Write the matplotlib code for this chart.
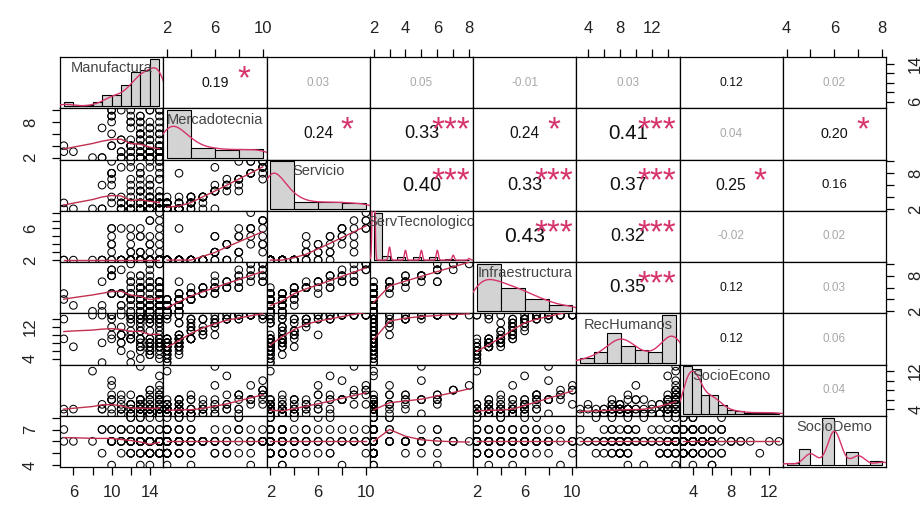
import numpy as np
import matplotlib
matplotlib.use("Agg")
import matplotlib.pyplot as plt

plt.rcParams['font.family'] = ['Liberation Sans', 'DejaVu Sans']

var_names = ["Manufactura", "Mercadotecnia", "Servicio", "ServTecnologico",
             "Infraestructura", "RecHumanos", "SocioEcono", "SocioDemo"]

# observaciones (valores enteros leidos aprox. de la figura)
manufactura = [15, 13, 14, 12, 15, 10, 14, 13, 15, 11,
               14, 15, 13, 12, 9, 15, 14, 13, 15, 10,
               12, 14, 15, 13, 11, 15, 14, 5, 13, 15,
               12, 14, 13, 15, 10, 14, 15, 12, 13, 8,
               15, 14, 11, 13, 15, 12, 14, 15, 13, 10,
               6, 15, 14, 13, 12, 15, 11, 14, 13, 15,
               10, 13, 14, 15, 12, 14, 9, 15, 13, 11,
               14, 15, 12, 13, 15, 14, 10, 13, 15, 12,
               14, 5, 15, 13, 11, 14, 15, 12, 13, 10,
               14, 15, 13, 12, 15, 14, 11, 15, 13, 14,
               12, 15, 10, 14, 13, 15, 12, 14, 15, 13,
               9, 14, 15, 12, 13, 15, 14, 11, 13, 15]
mercadotecnia = [2, 3, 2, 4, 2, 9, 3, 2, 5, 10,
                 2, 4, 3, 2, 7, 2, 3, 8, 2, 4,
                 3, 2, 10, 6, 2, 3, 2, 4, 9, 3,
                 2, 5, 2, 3, 8, 2, 4, 10, 3, 2,
                 6, 2, 3, 7, 2, 4, 3, 9, 2, 10,
                 3, 2, 4, 5, 2, 8, 3, 2, 6, 2,
                 4, 9, 3, 2, 7, 10, 2, 3, 4, 2,
                 5, 3, 8, 2, 6, 3, 10, 2, 4, 9,
                 2, 3, 7, 2, 5, 4, 10, 3, 8, 6,
                 3, 2, 6, 4, 2, 8, 5, 3, 2, 7,
                 4, 2, 9, 3, 6, 2, 5, 10, 3, 4,
                 2, 7, 3, 8, 2, 4, 6, 2, 5, 3]
servicio = [2, 2, 3, 2, 2, 8, 3, 2, 4, 9,
            2, 3, 2, 2, 6, 3, 2, 7, 2, 4,
            2, 3, 10, 5, 2, 2, 3, 2, 8, 2,
            3, 4, 2, 2, 10, 2, 3, 9, 2, 2,
            5, 2, 3, 6, 2, 3, 2, 10, 3, 7,
            2, 3, 4, 2, 2, 7, 2, 3, 9, 2,
            3, 8, 2, 4, 5, 10, 2, 2, 3, 2,
            4, 2, 6, 3, 2, 2, 8, 3, 4, 10,
            2, 3, 7, 2, 3, 4, 9, 2, 5, 6,
            2, 3, 5, 3, 2, 7, 4, 2, 3, 6,
            3, 2, 8, 2, 5, 3, 4, 9, 2, 3,
            2, 6, 4, 7, 2, 3, 5, 2, 4, 8]
serv_tecnologico = [2, 2, 2, 2, 2, 4, 2, 2, 2, 6,
                    2, 2, 2, 2, 2, 2, 2, 3, 2, 2,
                    2, 2, 7, 2, 2, 2, 2, 2, 5, 2,
                    2, 2, 2, 2, 6, 2, 2, 3, 2, 2,
                    5, 2, 2, 2, 2, 2, 2, 8, 2, 4,
                    2, 2, 2, 2, 2, 3, 2, 2, 5, 2,
                    2, 6, 2, 2, 4, 7, 2, 2, 2, 2,
                    2, 2, 3, 2, 2, 2, 5, 2, 2, 6,
                    2, 2, 2, 2, 2, 2, 4, 2, 2, 3,
                    2, 2, 3, 2, 2, 5, 2, 2, 2, 4,
                    2, 2, 6, 2, 3, 2, 2, 7, 2, 2,
                    2, 4, 2, 5, 2, 2, 3, 2, 2, 6]
infraestructura = [3, 4, 2, 5, 2, 8, 4, 3, 6, 9,
                   2, 5, 3, 2, 7, 4, 3, 6, 2, 5,
                   4, 3, 10, 6, 2, 4, 3, 5, 8, 2,
                   3, 6, 2, 4, 9, 3, 5, 7, 4, 2,
                   7, 2, 5, 6, 3, 4, 2, 10, 3, 8,
                   3, 4, 5, 6, 2, 7, 5, 3, 8, 4,
                   5, 7, 4, 3, 6, 9, 2, 4, 5, 3,
                   6, 3, 7, 4, 5, 2, 8, 3, 6, 10,
                   2, 4, 6, 3, 5, 4, 7, 5, 6, 5,
                   3, 2, 6, 4, 2, 8, 5, 3, 2, 7,
                   4, 3, 9, 2, 6, 3, 5, 10, 2, 4,
                   3, 7, 4, 8, 2, 4, 6, 3, 5, 7]
rec_humanos = [9, 9, 5, 9, 4, 15, 8, 7, 11, 15,
               6, 14, 9, 3, 15, 8, 7, 14, 5, 9,
               9, 7, 15, 14, 6, 8, 9, 14, 15, 15,
               14, 14, 4, 7, 15, 8, 12, 15, 9, 15,
               14, 6, 10, 15, 7, 11, 8, 15, 15, 14,
               7, 8, 13, 14, 5, 15, 10, 15, 15, 9,
               12, 15, 8, 7, 14, 15, 3, 13, 11, 8,
               14, 7, 15, 15, 13, 6, 15, 8, 14, 15,
               9, 9, 14, 7, 12, 11, 15, 13, 14, 10,
               8, 7, 12, 9, 6, 15, 10, 8, 7, 14,
               9, 8, 15, 5, 13, 8, 10, 15, 7, 9,
               8, 14, 10, 15, 6, 9, 13, 8, 11, 15]
socio_econo = [4, 3, 4, 3, 5, 6, 3, 4, 3, 7,
               3, 4, 6, 3, 4, 3, 5, 4, 3, 4,
               4, 3, 8, 4, 3, 5, 4, 3, 6, 3,
               3, 6, 4, 3, 7, 4, 3, 5, 4, 12,
               6, 3, 4, 5, 4, 3, 4, 9, 3, 6,
               4, 5, 3, 4, 3, 7, 6, 4, 13, 3,
               3, 6, 4, 3, 5, 8, 4, 3, 6, 4,
               5, 3, 7, 4, 3, 4, 10, 3, 6, 5,
               3, 4, 11, 6, 4, 3, 7, 5, 4, 9,
               4, 3, 5, 4, 3, 6, 4, 3, 5, 7,
               3, 4, 6, 3, 5, 4, 3, 8, 4, 3,
               5, 4, 6, 3, 4, 7, 3, 5, 4, 6]
socio_demo = [6, 5, 6, 7, 6, 6, 5, 6, 6, 7,
              6, 6, 5, 6, 7, 6, 6, 8, 5, 6,
              6, 7, 6, 5, 6, 6, 4, 6, 7, 6,
              5, 6, 6, 6, 7, 5, 6, 6, 8, 6,
              6, 5, 7, 6, 6, 6, 5, 6, 7, 6,
              6, 6, 5, 6, 8, 7, 6, 5, 6, 6,
              7, 6, 6, 5, 6, 6, 7, 6, 4, 5,
              6, 6, 8, 6, 5, 7, 6, 6, 6, 5,
              6, 7, 5, 6, 6, 8, 6, 5, 7, 6,
              6, 5, 6, 7, 6, 5, 6, 6, 7, 5,
              6, 6, 4, 6, 7, 5, 6, 6, 8, 6,
              5, 6, 7, 6, 6, 5, 6, 7, 6, 6]

# correlaciones mostradas (triangulo superior, fila por fila)
cor_values = [0.19, 0.03, 0.05, -0.01, 0.03, 0.12, 0.02,
              0.24, 0.33, 0.24, 0.41, 0.04, 0.20,
              0.40, 0.33, 0.37, 0.25, 0.16,
              0.43, 0.32, -0.02, 0.02,
              0.35, 0.12, 0.03,
              0.12, 0.06,
              0.04]
cor_stars = ["*", "", "", "", "", "", "",
             "*", "***", "*", "***", "", "*",
             "***", "***", "***", "*", "",
             "***", "***", "", "",
             "***", "", "",
             "", "",
             ""]

# ejes: marcas y etiquetas visibles
ticks_manuf = [6, 8, 10, 12, 14]
ticks_merc = [2, 4, 6, 8, 10]
ticks_serv = [2, 4, 6, 8, 10]
ticks_servtec = [2, 3, 4, 5, 6, 7, 8]
ticks_infra = [2, 4, 6, 8, 10]
ticks_rech = [4, 6, 8, 10, 12, 14]
ticks_socioe = [4, 6, 8, 10, 12]
ticks_sociod = [4, 5, 6, 7, 8]

# (lado, etiquetas mostradas)
axis_manuf = [("bottom", [6, 10, 14]), ("right", [6, 14])]
axis_merc = [("top", [2, 6, 10]), ("left", [2, 8])]
axis_serv = [("bottom", [2, 6, 10]), ("right", [2, 8])]
axis_servtec = [("top", [2, 4, 6, 8]), ("left", [2, 6])]
axis_infra = [("bottom", [2, 6, 10]), ("right", [2, 8])]
axis_rech = [("top", [4, 8, 12]), ("left", [4, 12])]
axis_socioe = [("bottom", [4, 8, 12]), ("right", [4, 12])]
axis_sociod = [("top", [4, 6, 8]), ("left", [4, 7])]

# cortes del histograma
breaks_manuf = np.arange(5, 16, 1.0)
breaks_merc = np.arange(2, 11, 2.0)
breaks_serv = np.arange(2, 11, 2.0)
breaks_servtec = np.arange(2, 8.01, 0.5)
breaks_infra = np.arange(2, 11, 2.0)
breaks_rech = np.linspace(3, 15, 8)
breaks_socioe = np.arange(2.5, 13.6, 1.0)
breaks_sociod = np.arange(4, 8.01, 0.5)

data = [manufactura, mercadotecnia, servicio, serv_tecnologico,
        infraestructura, rec_humanos, socio_econo, socio_demo]
all_ticks = [ticks_manuf, ticks_merc, ticks_serv, ticks_servtec,
             ticks_infra, ticks_rech, ticks_socioe, ticks_sociod]
all_axis = [axis_manuf, axis_merc, axis_serv, axis_servtec,
            axis_infra, axis_rech, axis_socioe, axis_sociod]
all_breaks = [breaks_manuf, breaks_merc, breaks_serv, breaks_servtec,
              breaks_infra, breaks_rech, breaks_socioe, breaks_sociod]

RED = '#D6336C'
LINE_RED = '#C0304F'


def lowess(x, y, f=2/3, iters=3):
    x = np.asarray(x, float)
    y = np.asarray(y, float)
    o = np.argsort(x, kind='mergesort')
    x, y = x[o], y[o]
    n = len(x)
    r = int(np.ceil(f * n))
    fit = np.zeros(n)
    rw = np.ones(n)
    for it in range(iters + 1):
        for i in range(n):
            d = np.abs(x - x[i])
            h = np.sort(d)[r - 1]
            if h <= 0:
                w = (d == 0).astype(float)
            else:
                u = np.clip(d / h, 0, 1)
                w = (1 - u ** 3) ** 3
            w = w * rw
            sw = w.sum()
            if sw <= 0:
                fit[i] = y[i]
                continue
            xm = (w * x).sum() / sw
            ym = (w * y).sum() / sw
            vx = (w * (x - xm) ** 2).sum()
            b = (w * (x - xm) * (y - ym)).sum() / vx if vx > 1e-9 else 0.0
            fit[i] = ym + b * (x[i] - xm)
        res = y - fit
        s = np.median(np.abs(res))
        if s < 1e-7:
            break
        u = np.clip(res / (6 * s), -1, 1)
        rw = (1 - u ** 2) ** 2
    return x, fit


def density_curve(x):
    x = np.asarray(x, float)
    n = len(x)
    sd = x.std(ddof=1)
    q75, q25 = np.percentile(x, [75, 25])
    lo = min(sd, (q75 - q25) / 1.34)
    if lo <= 0:
        lo = sd
    bw = 0.9 * lo * n ** -0.2
    grid = np.linspace(x.min() - 3 * bw, x.max() + 3 * bw, 512)
    dens = np.exp(-0.5 * ((grid[:, None] - x[None, :]) / bw) ** 2).sum(1) / (n * bw * np.sqrt(2 * np.pi))
    return grid, dens


def hist_density(x, edges):
    x = np.asarray(x, float)
    idx = np.searchsorted(edges, x, side='left') - 1
    idx = np.clip(idx, 0, len(edges) - 2)
    counts = np.bincount(idx, minlength=len(edges) - 1)
    return counts / (len(x) * np.diff(edges))


def ext_lim(lo, hi):
    pad = 0.04 * (hi - lo)
    return lo - pad, hi + pad


def text_width_em(s):
    w = 0
    for ch in s:
        w += 0.278 if ch == '.' else (0.333 if ch == '-' else 0.556)
    return w


fig = plt.figure(figsize=(9.24, 5.12), dpi=100)
W, H = 924.0, 512.0
x0, x1, y0, y1 = 60, 886, 57, 467
cw = (x1 - x0) / 8.0
rh = (y1 - y0) / 8.0
nv = len(data)
lims = [ext_lim(min(d), max(d)) for d in data]

k = 0
cor_index = {}
for i in range(nv):
    for j in range(i + 1, nv):
        cor_index[(i, j)] = k
        k += 1

for i in range(nv):
    for j in range(nv):
        ax = fig.add_axes([(x0 + j * cw) / W, 1 - (y0 + (i + 1) * rh) / H, cw / W, rh / H])
        ax.set_xlim(*lims[j])
        ax.set_ylim(*lims[i])
        for sp in ax.spines.values():
            sp.set_linewidth(0.9)
            sp.set_color('black')
        ax.tick_params(left=False, bottom=False, labelleft=False, labelbottom=False)

        if i > j:
            xs = data[j]
            ys = data[i]
            ax.scatter(xs, ys, s=30, facecolors='none', edgecolors='black', linewidths=0.75, zorder=2)
            lx, ly = lowess(xs, ys)
            ax.plot(lx, ly, color=LINE_RED, lw=1.0, zorder=3)
        elif i < j:
            idx = cor_index[(i, j)]
            r = cor_values[idx]
            txt = f"{r:.2f}"
            fs_full = 27 * 1.946 / text_width_em(txt)
            small = abs(r) < 0.1
            fs_num = fs_full * (abs(r) + 0.3) / 1.3
            if small:
                fs_num = max(fs_num, 8.5)
            ax.text(0.5, 0.5, txt, transform=ax.transAxes, ha='center', va='center',
                    fontsize=fs_num, color='#a8a8a8' if small else '#111111')
            if cor_stars[idx]:
                fs_star = 0.88 * fs_full
                star_px = fs_star * 100 / 72
                ax.text(0.78, 0.77 - 0.59 * star_px / rh, cor_stars[idx], transform=ax.transAxes,
                        ha='center', va='baseline', fontsize=fs_star, color=RED)
        else:
            edges = all_breaks[i]
            dens = hist_density(data[i], edges)
            hx = ax.inset_axes([0, 0, 1, 1])
            hx.set_xlim(*ext_lim(edges[0], edges[-1]))
            hx.set_ylim(*ext_lim(0, dens.max()))
            hx.bar(edges[:-1], dens, width=np.diff(edges), align='edge',
                   color='#D3D3D3', edgecolor='black', linewidth=0.8)
            gx, gy = density_curve(data[i])
            hx.plot(gx, gy, color=RED, lw=1.0)
            hx.axis('off')
            hx.patch.set_visible(False)
            ax.text(0.5, 0.78, var_names[i], transform=ax.transAxes, ha='center', va='center',
                    fontsize=10.5, color='#444444', zorder=6)

        # ejes exteriores
        for var, is_col in ((j, True), (i, False)):
            for side, shown in all_axis[var]:
                ticks = all_ticks[var]
                labels = [str(t) if t in shown else '' for t in ticks]
                if is_col and side == 'top' and i == 0:
                    ax.set_xticks(ticks)
                    ax.set_xticklabels(labels)
                    ax.tick_params(axis='x', top=True, labeltop=True, bottom=False, labelbottom=False,
                                   length=6, width=0.9, labelsize=12, pad=9, labelcolor='#222222')
                elif is_col and side == 'bottom' and i == nv - 1:
                    ax.set_xticks(ticks)
                    ax.set_xticklabels(labels)
                    ax.tick_params(axis='x', bottom=True, labelbottom=True, length=6, width=0.9,
                                   labelsize=12, pad=7, labelcolor='#222222')
                elif (not is_col) and side == 'left' and j == 0:
                    ax.set_yticks(ticks)
                    ax.set_yticklabels(labels, rotation=90, va='center')
                    ax.tick_params(axis='y', left=True, labelleft=True, length=6, width=0.9,
                                   labelsize=12, pad=10, labelcolor='#222222')
                elif (not is_col) and side == 'right' and j == nv - 1:
                    ax.set_yticks(ticks)
                    ax.set_yticklabels(labels, rotation=90, va='center')
                    ax.tick_params(axis='y', right=True, labelright=True, left=False, labelleft=False,
                                   length=6, width=0.9, labelsize=12, pad=10, labelcolor='#222222')

fig.savefig("out.png", dpi=100, facecolor='white')
